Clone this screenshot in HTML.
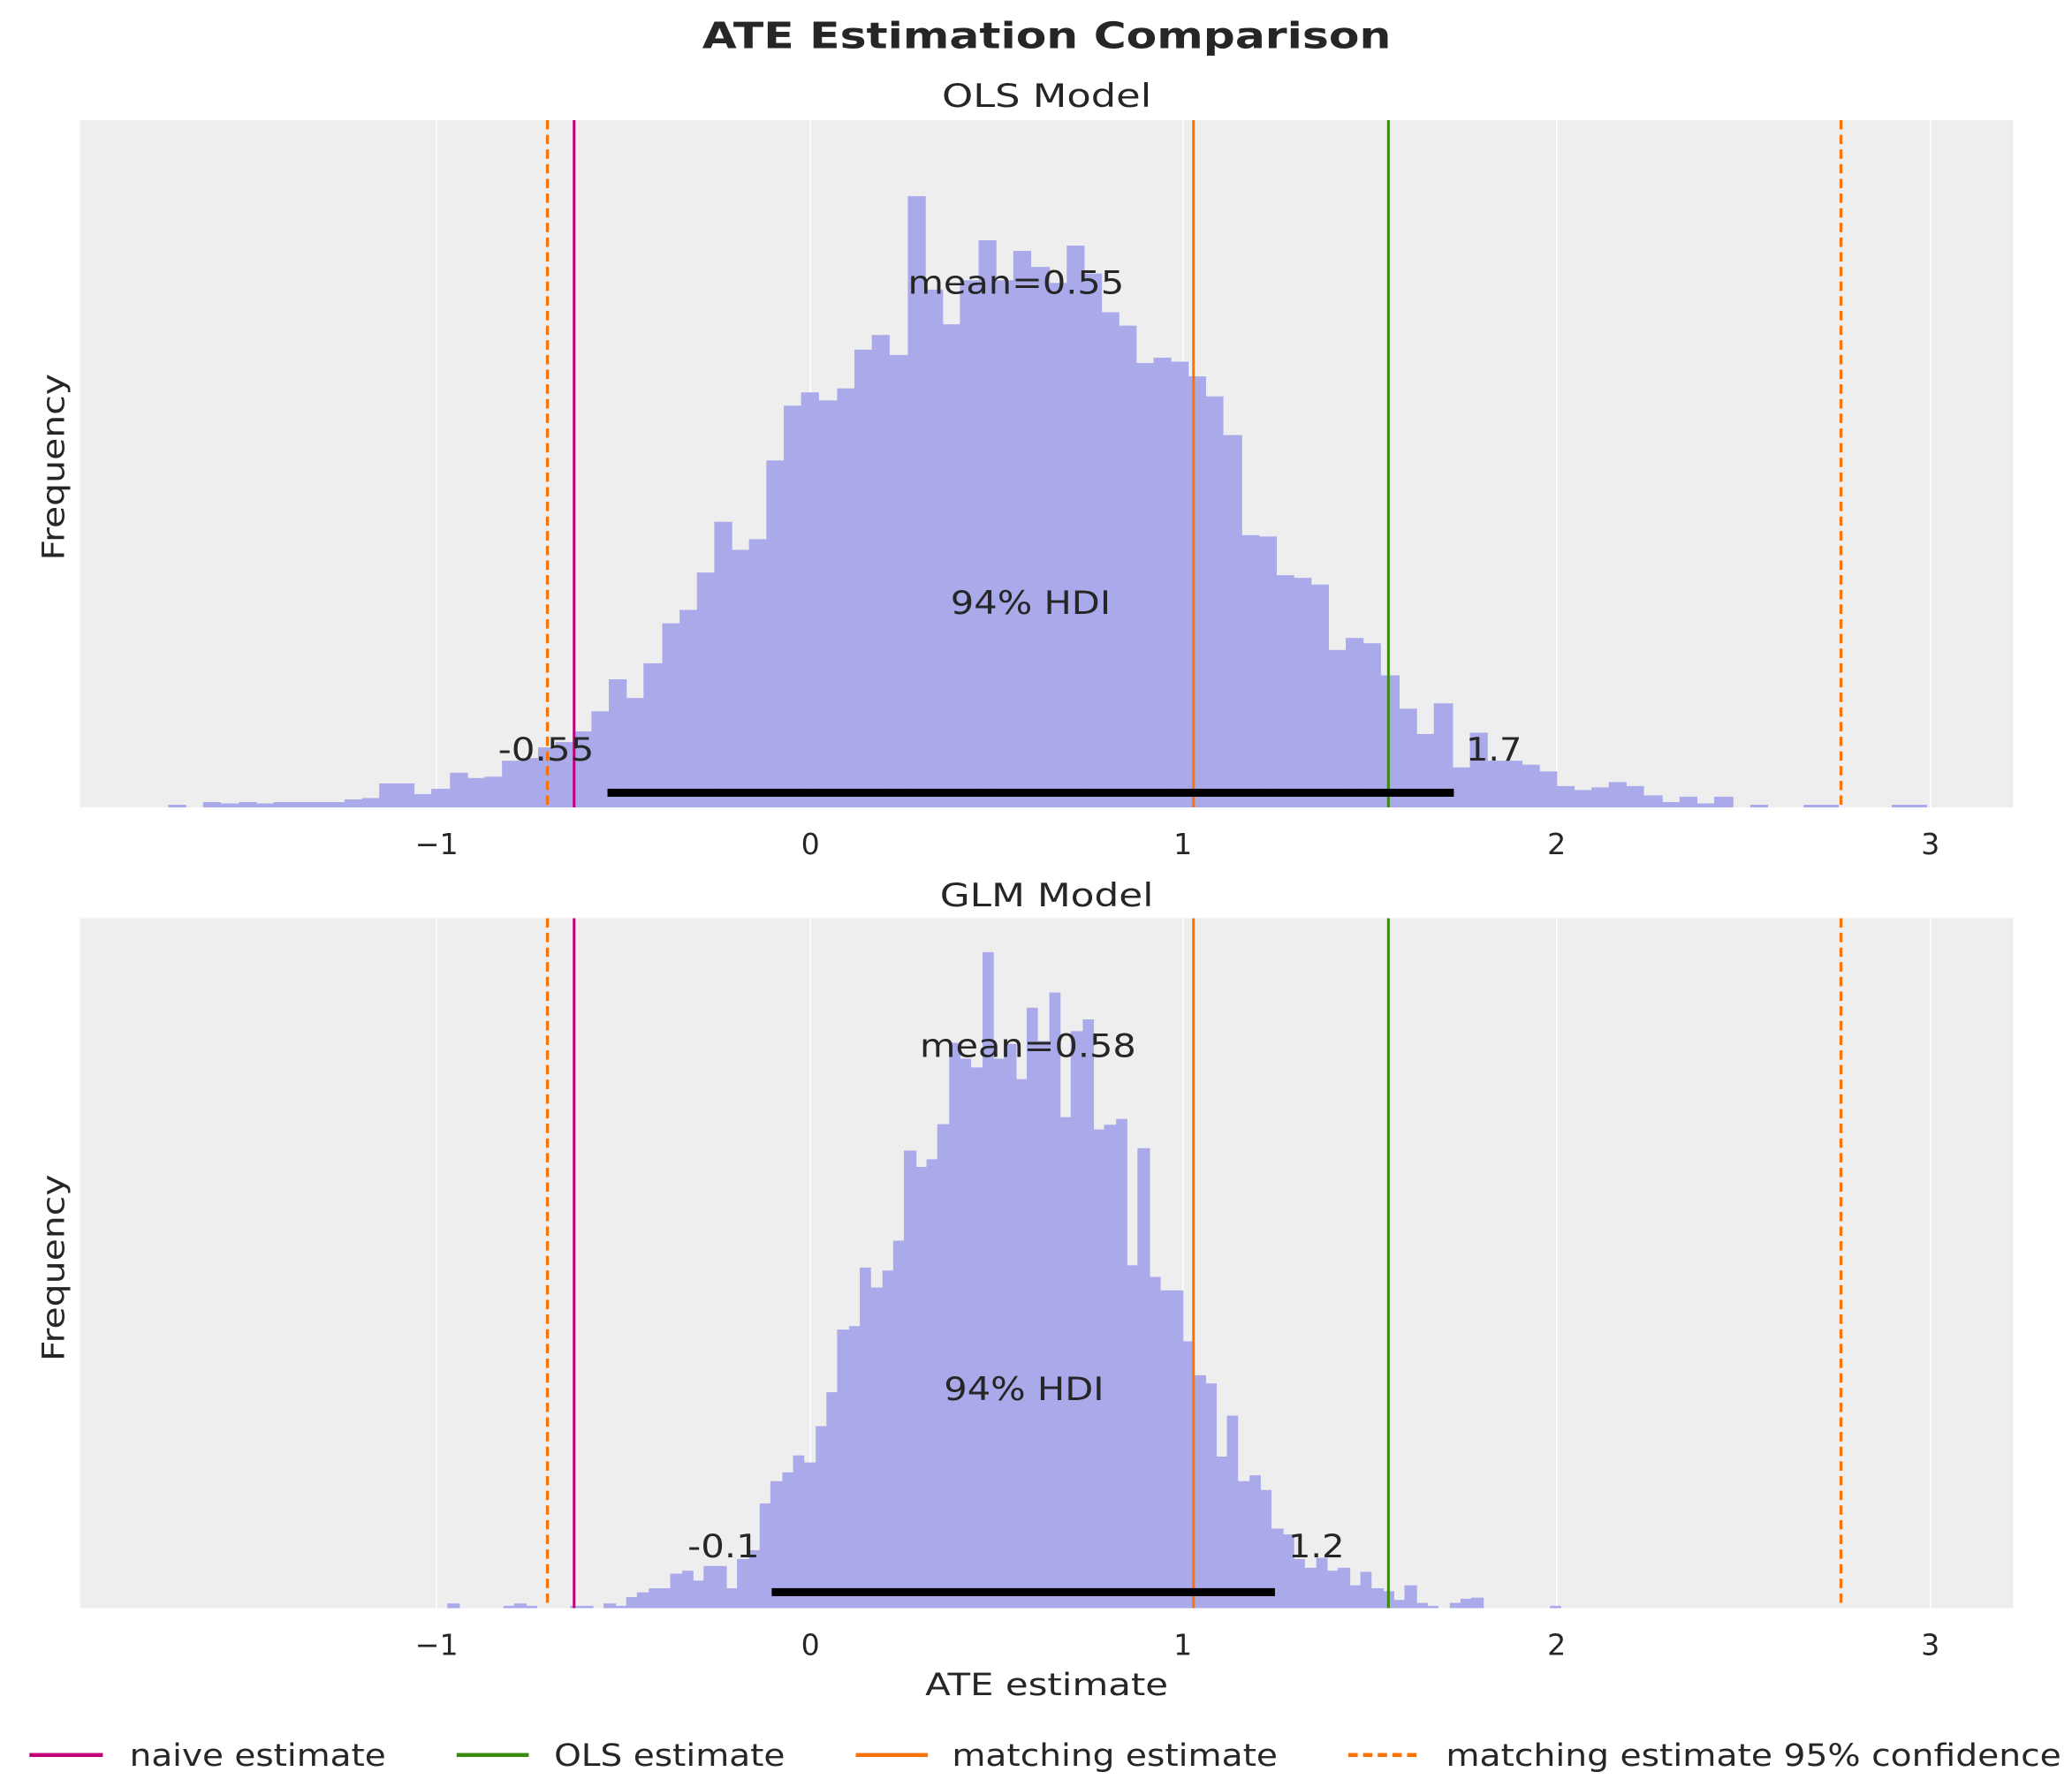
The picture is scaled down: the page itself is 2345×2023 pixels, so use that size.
<!DOCTYPE html>
<html><head><meta charset="utf-8"><style>
html,body{margin:0;padding:0;background:#fff}
svg{display:block}
text{font-family:"DejaVu Sans","Liberation Sans",sans-serif;fill:#262626}
</style></head><body>
<svg id="s" width="2345" height="2023" viewBox="0 0 1552 1339" xmlns="http://www.w3.org/2000/svg">
<rect x="60" y="90" width="1448" height="515" fill="#eeeeee"/>
<rect x="60" y="688" width="1448" height="517" fill="#eeeeee"/>
<g id="grid" stroke="#ffffff" stroke-width="1"></g>
<g id="h1" fill="#aaaaeb"></g>
<g id="h2" fill="#aaaaeb"></g>
<g id="vl"></g>
<rect x="455" y="591" width="634" height="6" fill="#000"/>
<rect x="578" y="1190" width="377" height="6" fill="#000"/>
<text x="784" y="36" font-size="27" font-weight="bold" text-anchor="middle" textLength="516" lengthAdjust="spacingAndGlyphs">ATE Estimation Comparison</text>
<text x="784" y="80" font-size="24" text-anchor="middle" textLength="157" lengthAdjust="spacingAndGlyphs">OLS Model</text>
<text x="784" y="679" font-size="24" text-anchor="middle" textLength="160" lengthAdjust="spacingAndGlyphs">GLM Model</text>
<text x="761" y="220" font-size="24" text-anchor="middle" textLength="162" lengthAdjust="spacingAndGlyphs">mean=0.55</text>
<text x="772" y="460" font-size="24" text-anchor="middle" textLength="120" lengthAdjust="spacingAndGlyphs">94% HDI</text>
<text x="409" y="570" font-size="24" text-anchor="middle" textLength="72" lengthAdjust="spacingAndGlyphs">-0.55</text>
<text x="1119" y="570" font-size="24" text-anchor="middle" textLength="42" lengthAdjust="spacingAndGlyphs">1.7</text>
<text x="770" y="792" font-size="24" text-anchor="middle" textLength="162" lengthAdjust="spacingAndGlyphs">mean=0.58</text>
<text x="767" y="1049" font-size="24" text-anchor="middle" textLength="120" lengthAdjust="spacingAndGlyphs">94% HDI</text>
<text x="542" y="1167" font-size="24" text-anchor="middle" textLength="54" lengthAdjust="spacingAndGlyphs">-0.1</text>
<text x="986" y="1167" font-size="24" text-anchor="middle" textLength="42" lengthAdjust="spacingAndGlyphs">1.2</text>
<g id="ticks" font-size="22"></g>
<text transform="translate(48,350) rotate(-90)" font-size="23" text-anchor="middle" textLength="140" lengthAdjust="spacingAndGlyphs">Frequency</text>
<text transform="translate(48,950) rotate(-90)" font-size="23" text-anchor="middle" textLength="140" lengthAdjust="spacingAndGlyphs">Frequency</text>
<text x="784" y="1270" font-size="23" text-anchor="middle" textLength="182" lengthAdjust="spacingAndGlyphs">ATE estimate</text>
<g font-size="23">
<line x1="22" y1="1315" x2="77" y2="1315" stroke="#c20078" stroke-width="3"/>
<text x="97" y="1323" textLength="192" lengthAdjust="spacingAndGlyphs">naive estimate</text>
<line x1="342" y1="1315" x2="396" y2="1315" stroke="#3a8a10" stroke-width="3"/>
<text x="415" y="1323" textLength="173" lengthAdjust="spacingAndGlyphs">OLS estimate</text>
<line x1="641" y1="1315" x2="695" y2="1315" stroke="#f97306" stroke-width="3"/>
<text x="713" y="1323" textLength="244" lengthAdjust="spacingAndGlyphs">matching estimate</text>
<line x1="1010" y1="1315" x2="1064" y2="1315" stroke="#f97306" stroke-width="3" stroke-dasharray="7,4"/>
<text x="1083" y="1323" textLength="461" lengthAdjust="spacingAndGlyphs">matching estimate 95% confidence</text>
</g>
</svg>
<script>
var NS="http://www.w3.org/2000/svg";
function el(p,t,a){var e=document.createElementNS(NS,t);for(var k in a)e.setAttribute(k,a[k]);p.appendChild(e);return e;}
var g=document.getElementById('grid'),tk=document.getElementById('ticks');
var tx=[327,607,886,1166,1446],tl=["\u22121","0","1","2","3"];
tx.forEach(function(x,i){
 el(g,'line',{x1:x,y1:90,x2:x,y2:605});
 el(g,'line',{x1:x,y1:688,x2:x,y2:1205});
 var t=el(tk,'text',{x:x,y:640,'text-anchor':'middle'});t.textContent=tl[i];
 var t2=el(tk,'text',{x:x,y:1240,'text-anchor':'middle'});t2.textContent=tl[i];
});
var ols=[[126,139,603],[152,165,601],[165,179,602],[179,192,601],[192,205,602],[205,258,601],[258,271,599],[271,284,598],[284,310,587],[310,323,595],[323,337,591],[337,350,579],[350,363,583],[363,376,582],[376,390,570],[390,403,568],[403,416,560],[416,429,556],[429,443,548],[443,456,533],[456,469,509],[469,482,523],[482,496,497],[496,509,467],[509,522,457],[522,535,429],[535,548,391],[548,561,412],[561,574,404],[574,587,345],[587,600,304],[600,613,294],[613,627,300],[627,640,291],[640,653,262],[653,666,251],[666,680,266],[680,693,147],[693,706,217],[706,719,243],[719,733,210],[733,746,180],[746,759,210],[759,772,188],[772,786,200],[786,799,212],[799,812,184],[812,825,205],[825,838,234],[838,851,244],[851,864,272],[864,877,268],[877,890,271],[890,903,282],[903,916,297],[916,930,326],[930,943,401],[943,956,402],[956,969,431],[969,982,433],[982,995,438],[995,1008,487],[1008,1021,478],[1021,1034,482],[1034,1048,506],[1048,1061,531],[1061,1074,550],[1074,1088,527],[1088,1101,575],[1101,1114,549],[1114,1127,570],[1127,1140,570],[1140,1153,573],[1153,1166,578],[1166,1179,589],[1179,1192,592],[1192,1205,590],[1205,1218,586],[1218,1231,589],[1231,1245,596],[1245,1258,601],[1258,1271,597],[1271,1284,602],[1284,1298,597],[1311,1324,603],[1351,1377,603],[1417,1443,603]];
var h1=document.getElementById('h1');
ols.forEach(function(b){el(h1,'rect',{x:b[0],y:b[2],width:b[1]-b[0]+0.4,height:605-b[2]});});
var glm=[[335,344,1216],[377,385,1220],[385,394,1216],[394,402,1220],[427,444,1220],[452,461,1216],[461,469,1220],[469,477,1205],[477,486,1197],[486,502,1190],[502,511,1165],[511,519,1160],[519,527,1177],[527,544,1152],[544,552,1190],[552,561,1140],[561,569,1125],[569,577,1045],[577,586,1007],[586,594,992],[594,602,963],[602,611,975],[611,619,913],[619,627,855],[627,636,748],[636,644,742],[644,652,642],[652,661,676],[661,669,647],[669,677,596],[677,686,442],[686,694,470],[694,702,457],[702,711,397],[711,719,258],[719,727,285],[727,736,300],[736,744,103],[744,752,285],[752,761,260],[761,769,320],[769,777,198],[777,786,255],[786,794,172],[794,802,385],[802,811,238],[811,819,218],[819,827,406],[827,836,398],[836,844,388],[844,852,638],[852,861,438],[861,869,658],[869,886,681],[886,894,768],[894,903,826],[903,911,840],[911,919,965],[919,927,895],[927,936,1007],[936,944,997],[944,952,1022],[952,961,1088],[961,969,1098],[969,977,1140],[977,986,1155],[986,994,1138],[994,1002,1160],[1002,1011,1155],[1011,1019,1185],[1019,1027,1162],[1027,1036,1190],[1036,1044,1195],[1044,1052,1210],[1052,1061,1185],[1061,1069,1215],[1069,1077,1220],[1086,1094,1215],[1094,1102,1208],[1102,1111,1206],[1161,1169,1220]];
var h2=document.getElementById('h2');
glm.forEach(function(b){var y=688+(b[2]-45)*0.4385;el(h2,'rect',{x:b[0],y:y,width:b[1]-b[0]+0.4,height:1205-y});});
var vl=document.getElementById('vl');
[[90,605],[688,1205]].forEach(function(r){
 el(vl,'line',{x1:410,y1:r[0],x2:410,y2:r[1],stroke:'#f97306','stroke-width':2.2,'stroke-dasharray':'7,4'});
 el(vl,'line',{x1:1379,y1:r[0],x2:1379,y2:r[1],stroke:'#f97306','stroke-width':2.2,'stroke-dasharray':'7,4'});
 el(vl,'line',{x1:430,y1:r[0],x2:430,y2:r[1],stroke:'#c20078','stroke-width':2});
 el(vl,'line',{x1:894,y1:r[0],x2:894,y2:r[1],stroke:'#f97306','stroke-width':2});
 el(vl,'line',{x1:1040,y1:r[0],x2:1040,y2:r[1],stroke:'#3a8a10','stroke-width':2});
});
</script>
</body></html>
